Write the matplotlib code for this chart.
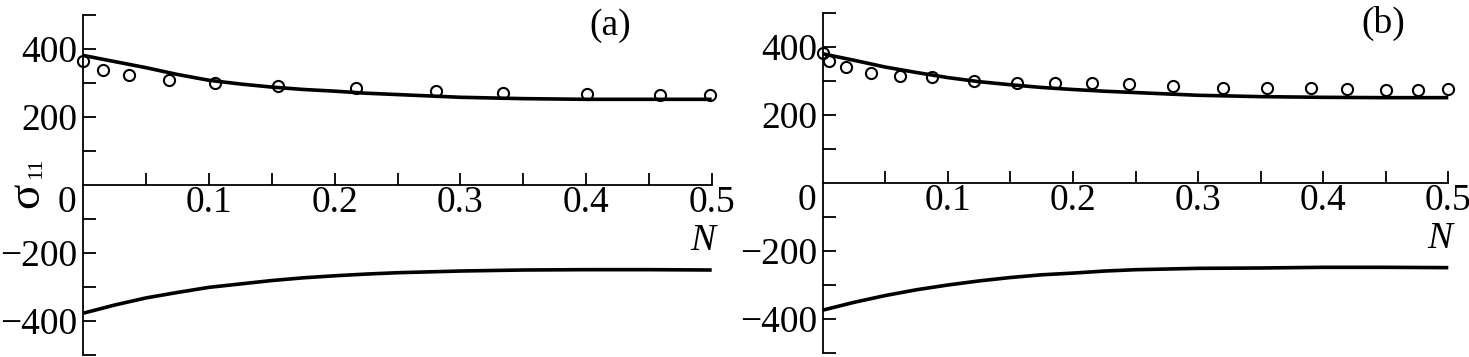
import matplotlib
matplotlib.use('Agg')
import matplotlib.pyplot as plt

plt.rcParams['font.family'] = ['Liberation Serif', 'DejaVu Serif']
plt.rcParams['axes.unicode_minus'] = True

# panel (a)
n_fit_a = [0.0, 0.025, 0.05, 0.075, 0.1, 0.125, 0.15, 0.175, 0.2, 0.225, 0.25, 0.3, 0.35, 0.4, 0.45, 0.5]
s_up_a = [381, 363, 345, 325, 308, 297, 288, 281, 276, 270, 266, 258, 254, 252, 252, 252]
s_low_a = [-377, -353, -332, -316, -301, -291, -281, -273, -267, -262, -258, -253, -250, -249, -249, -250]
n_pts_a = [0.0, 0.016, 0.036, 0.068, 0.105, 0.155, 0.217, 0.281, 0.334, 0.401, 0.459, 0.499]
s_pts_a = [366, 337, 323, 310, 301, 290, 285, 276, 271, 269, 266, 264]

# panel (b)
n_fit_b = [0.0, 0.025, 0.05, 0.075, 0.1, 0.125, 0.15, 0.175, 0.2, 0.225, 0.25, 0.3, 0.35, 0.4, 0.45, 0.5]
s_up_b = [380, 361, 341, 325, 310, 298, 289, 281, 275, 270, 266, 258, 254, 252, 251, 251]
s_low_b = [-374, -351, -331, -314, -300, -288, -278, -270, -265, -259, -255, -251, -250, -248, -248, -249]
n_pts_b = [0.0, 0.005, 0.019, 0.039, 0.062, 0.087, 0.121, 0.155, 0.186, 0.215, 0.245,
           0.28, 0.32, 0.355, 0.39, 0.419, 0.45, 0.476, 0.5]
s_pts_b = [382, 358, 341, 325, 314, 312, 300, 295, 293, 293, 290,
           285, 280, 280, 278, 277, 275, 275, 276]

x_major = [0.1, 0.2, 0.3, 0.4, 0.5]
x_minor = [0.05, 0.15, 0.25, 0.35, 0.45]
y_major = [-400, -200, 200, 400]
y_minor = [-500, -300, -100, 100, 300, 500]

W, H = 1469, 357
fig = plt.figure(figsize=(W / 100, H / 100), dpi=100)
ax_a = fig.add_axes([83.3 / W, 2 / H, 628.4 / W, 340 / H])
ax_b = fig.add_axes([822.7 / W, 4 / H, 625.6 / W, 340 / H])

panels = [
    (ax_a, n_fit_a, s_up_a, s_low_a, n_pts_a, s_pts_a, '(a)', 0.419, 470),
    (ax_b, n_fit_b, s_up_b, s_low_b, n_pts_b, s_pts_b, '(b)', 0.448, 470),
]

for ax, nf, su, sl, npt, spt, tag, tx, ty in panels:
    ax.plot(nf, su, color='black', lw=2.6, solid_capstyle='butt', clip_on=False)
    ax.plot(nf, sl, color='black', lw=2.6, solid_capstyle='butt', clip_on=False)
    ax.plot(npt, spt, 'o', ms=8, mfc='none', mec='black', mew=1.5, clip_on=False)

    ax.set_xlim(0, 0.5)
    ax.set_ylim(-500, 500)
    ax.patch.set_alpha(0)
    ax.spines['top'].set_visible(False)
    ax.spines['right'].set_visible(False)
    ax.spines['bottom'].set_position(('data', 0))
    for sp in ('left', 'bottom'):
        ax.spines[sp].set_linewidth(1.3)

    ax.set_xticks(x_major)
    ax.set_xticklabels(['0.1', '0.2', '0.3', '0.4', '0.5'])
    ax.set_xticks(x_minor, minor=True)
    ax.set_yticks(y_major)
    ax.set_yticklabels(['\u2212400', '\u2212200', '200', '400'])
    ax.set_yticks(y_minor, minor=True)
    ax.tick_params(axis='both', which='both', direction='in', length=9, width=1.3,
                   labelsize=27, colors='black')
    ax.tick_params(axis='x', which='major', pad=0.5)
    ax.tick_params(axis='y', which='major', pad=4)

    ax.annotate('0', xy=(0, 0), xytext=(-5, -0.5), textcoords='offset points',
                ha='right', va='top', fontsize=27)
    ax.text(0.493, -165, 'N', fontsize=27, style='italic', ha='center', va='center')
    ax.text(tx, ty, tag, fontsize=27, ha='center', va='center')

# y label sigma_11, rotated
fig.text(27 / W, 1 - 195 / H, '\u03c3', rotation=90, fontsize=34, ha='center', va='center')
fig.text(37 / W, 1 - 168 / H, '11', rotation=90, fontsize=16, ha='center', va='center')

fig.savefig('out.png', dpi=100)
